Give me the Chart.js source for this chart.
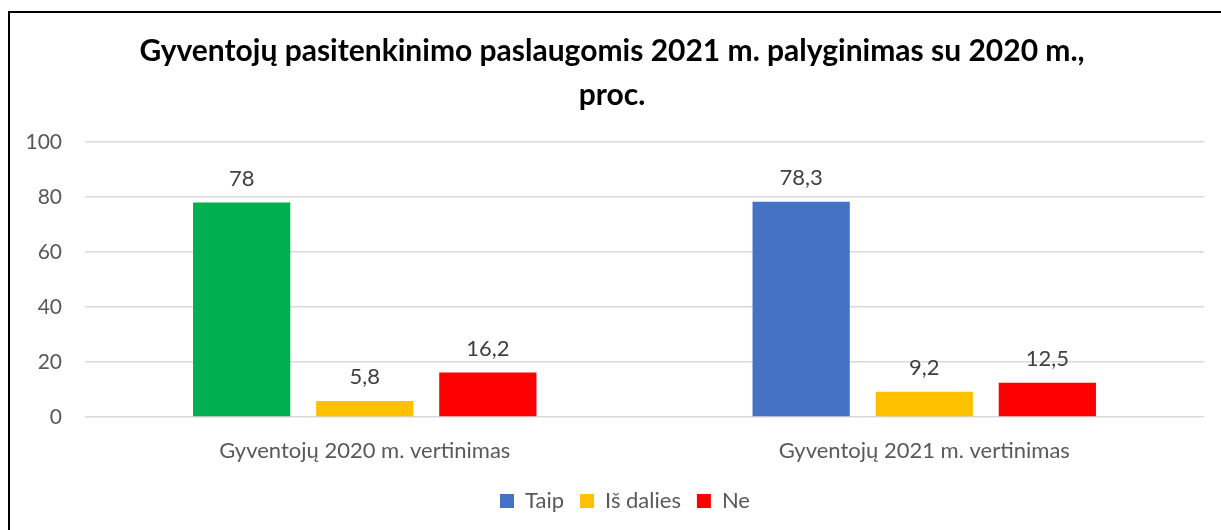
<!DOCTYPE html>
<html>
<head>
<meta charset="utf-8">
<script src="https://cdn.jsdelivr.net/npm/chart.js@4.4.0/dist/chart.umd.min.js"></script>
<style>
    body { margin: 0; overflow: hidden; background: #fff; }
    #frame {
        position: absolute; left: 8px; top: 11px;
        width: 1300px; height: 600px;
        border: 2px solid #000;
    }
    #wrap { position: absolute; left: 0; top: 0; width: 1221px; height: 530px; }
</style>
</head>
<body>
<div id="frame"></div>
<div id="wrap"><canvas id="chart" width="1221" height="530"></canvas></div>
<script>
// Data
const categories = ['Gyventojų 2020 m. vertinimas', 'Gyventojų 2021 m. vertinimas'];
const seriesNames = ['Taip', 'Iš dalies', 'Ne'];
const taipValues = [78, 78.3];
const isDaliesValues = [5.8, 9.2];
const neValues = [16.2, 12.5];
const yTicks = [0, 20, 40, 60, 80, 100];

// Colours
const taipColors = ['#00B050', '#4472C4'];
const legendColors = ['#4472C4', '#FFC000', '#FF0000'];

const fontFamily = 'Lato, "Open Sans", sans-serif';

// Value labels above bars, with decimal comma
const valueLabels = {
    id: 'valueLabels',
    afterDatasetsDraw(chart) {
        const ctx = chart.ctx;
        ctx.save();
        ctx.font = '22px ' + fontFamily;
        ctx.fillStyle = '#404040';
        ctx.textAlign = 'center';
        ctx.textBaseline = 'bottom';
        chart.data.datasets.forEach((ds, i) => {
            chart.getDatasetMeta(i).data.forEach((bar, j) => {
                const text = String(ds.data[j]).replace('.', ',');
                ctx.fillText(text, bar.x, bar.y - 13);
            });
        });
        ctx.restore();
    }
};

// nudge the legend a little to the right, like the original
const legendShift = {
    id: 'legendShift',
    afterLayout(chart) {
        if (chart.legend) {
            chart.legend.left += 13;
            chart.legend.right += 13;
        }
    }
};

new Chart(document.getElementById('chart'), {
    type: 'bar',
    data: {
        labels: categories,
        datasets: [
            { label: seriesNames[0], data: taipValues, backgroundColor: taipColors },
            { label: seriesNames[1], data: isDaliesValues, backgroundColor: legendColors[1] },
            { label: seriesNames[2], data: neValues, backgroundColor: legendColors[2] }
        ]
    },
    options: {
        responsive: false,
        animation: false,
        events: [],
        layout: { padding: { left: 20, right: 17, top: 30, bottom: 8 } },
        datasets: {
            bar: { categoryPercentage: 0.66, barPercentage: 0.79 }
        },
        scales: {
            x: {
                afterFit: s => { s.height = 57; },
                grid: { display: false },
                border: { display: false },
                ticks: { color: '#595959', font: { family: fontFamily, size: 22 }, padding: 13 }
            },
            y: {
                min: 0,
                max: 100,
                afterBuildTicks: s => { s.ticks = yTicks.map(v => ({ value: v })); },
                afterFit: s => { s.width = 65; },
                grid: { color: '#D9D9D9', lineWidth: 1.5, drawTicks: false },
                border: { display: false },
                ticks: { color: '#595959', font: { family: fontFamily, size: 21 }, padding: 23 }
            }
        },
        plugins: {
            title: {
                display: true,
                text: ['Gyventojų pasitenkinimo paslaugomis 2021 m. palyginimas su 2020 m.,', 'proc.'],
                color: '#000',
                font: { family: fontFamily, size: 30, weight: 'bold', lineHeight: 1.45 },
                padding: { top: 0, bottom: 25 }
            },
            legend: {
                position: 'bottom',
                labels: {
                    color: '#595959',
                    font: { family: fontFamily, size: 22 },
                    boxWidth: 14,
                    boxHeight: 14,
                    padding: 16,
                    generateLabels: chart => {
                        const items = Chart.defaults.plugins.legend.labels.generateLabels(chart);
                        items.forEach((item, i) => {
                            item.fillStyle = legendColors[i];
                            item.strokeStyle = legendColors[i];
                            item.lineWidth = 0;
                        });
                        return items;
                    }
                }
            },
            tooltip: { enabled: false }
        }
    },
    plugins: [valueLabels, legendShift]
});
</script>
</body>
</html>
